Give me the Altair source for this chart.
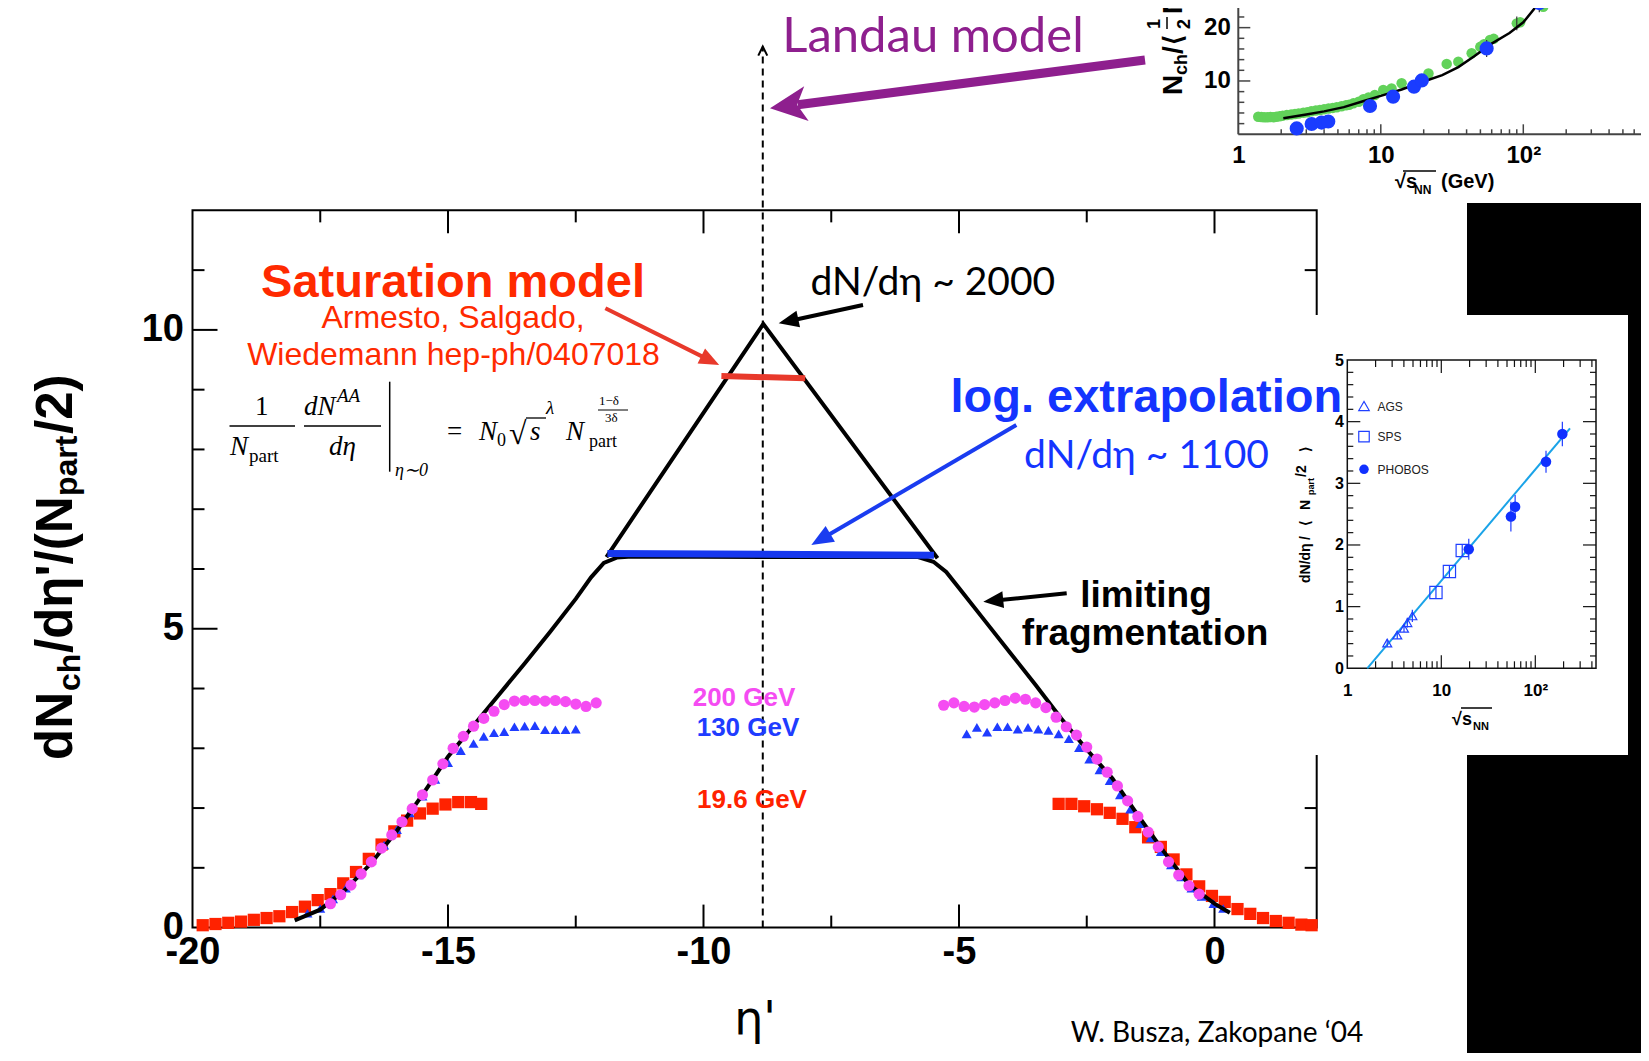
import math
import altair as alt
import pandas as pd

# ================= DATA =================
# main panel: dN_ch/deta' /(N_part/2) vs eta'
red_l_x = [-19.8, -19.55, -19.3, -19.05, -18.8, -18.55, -18.3, -18.05, -17.8, -17.55, -17.3, -17.05,
           -16.8, -16.55, -16.3, -16.05, -15.8, -15.55, -15.3, -15.05, -14.8, -14.55, -14.35]
red_l_y = [0.04, 0.06, 0.08, 0.10, 0.13, 0.16, 0.19, 0.26, 0.35, 0.46, 0.56, 0.74,
           0.93, 1.15, 1.39, 1.61, 1.79, 1.91, 1.99, 2.06, 2.10, 2.10, 2.07]
red_r_x = [-3.05, -2.8, -2.55, -2.3, -2.05, -1.8, -1.55, -1.3, -1.05, -0.8, -0.55, -0.3, -0.05,
           0.2, 0.45, 0.7, 0.95, 1.2, 1.45, 1.7, 1.9]
red_r_y = [2.07, 2.07, 2.03, 1.98, 1.92, 1.82, 1.68, 1.51, 1.35, 1.14, 0.89, 0.69, 0.53,
           0.43, 0.31, 0.23, 0.16, 0.11, 0.08, 0.05, 0.04]

blue_l_x = [-17.75, -17.5, -17.25, -17.0, -16.75, -16.5, -16.25, -16.0, -15.75, -15.5, -15.25, -15.0,
            -14.75, -14.5, -14.3, -14.1, -13.9, -13.7, -13.5, -13.3, -13.1, -12.9, -12.7, -12.5]
blue_l_y = [0.24, 0.32, 0.48, 0.66, 0.88, 1.12, 1.38, 1.64, 1.92, 2.20, 2.48, 2.76,
            2.96, 3.08, 3.20, 3.26, 3.28, 3.36, 3.37, 3.38, 3.31, 3.31, 3.31, 3.32]
blue_r_x = [-4.85, -4.65, -4.45, -4.25, -4.05, -3.85, -3.65, -3.45, -3.25, -3.05, -2.85, -2.65, -2.45,
            -2.25, -2.05, -1.85, -1.65, -1.45, -1.25, -1.05, -0.85, -0.65, -0.45, -0.25, -0.02, 0.17]
blue_r_y = [3.24, 3.35, 3.27, 3.36, 3.36, 3.32, 3.35, 3.32, 3.30, 3.24, 3.16, 3.01, 2.82,
            2.64, 2.46, 2.22, 1.98, 1.74, 1.50, 1.27, 1.05, 0.85, 0.66, 0.52, 0.40, 0.32]

pink_l_x = [-17.3, -17.1, -16.9, -16.7, -16.5, -16.3, -16.1, -15.9, -15.7, -15.5, -15.3, -15.1, -14.9,
            -14.7, -14.5, -14.3, -14.1, -13.9, -13.7, -13.5, -13.3, -13.1, -12.9, -12.7, -12.5, -12.3, -12.1]
pink_l_y = [0.40, 0.55, 0.71, 0.90, 1.10, 1.33, 1.55, 1.77, 1.99, 2.22, 2.47, 2.74, 3.00,
            3.20, 3.37, 3.50, 3.62, 3.73, 3.79, 3.80, 3.80, 3.79, 3.80, 3.78, 3.74, 3.70, 3.76]
pink_r_x = [-5.3, -5.1, -4.9, -4.7, -4.5, -4.3, -4.1, -3.9, -3.7, -3.5, -3.3, -3.1, -2.9,
            -2.7, -2.5, -2.3, -2.1, -1.9, -1.7, -1.5, -1.3, -1.1, -0.9, -0.7, -0.5, -0.3]
pink_r_y = [3.72, 3.76, 3.70, 3.69, 3.73, 3.76, 3.80, 3.84, 3.82, 3.76, 3.68, 3.52, 3.36,
            3.22, 3.02, 2.82, 2.60, 2.37, 2.12, 1.86, 1.60, 1.35, 1.10, 0.88, 0.70, 0.56]

# limiting-fragmentation curve + plateau (black)
lf_x = [-18.0, -17.5, -17.0, -16.5, -16.0, -15.5, -15.0, -14.5, -14.0, -13.5, -13.0, -12.5, -12.2, -11.95,
        -11.7, -11.4, -8.0, -5.8, -5.5, -5.25, -5.0, -4.5, -4.0, -3.5, -3.0, -2.5, -2.0, -1.5, -1.0, -0.5, 0.0, 0.3]
lf_y = [0.12, 0.30, 0.64, 1.08, 1.62, 2.22, 2.86, 3.38, 3.90, 4.42, 4.95, 5.50, 5.86, 6.10,
        6.19, 6.21, 6.20, 6.20, 6.12, 5.95, 5.68, 5.14, 4.60, 4.06, 3.50, 2.98, 2.50, 1.88, 1.28, 0.72, 0.40, 0.25]
tri_x = [-11.9, -8.83, -5.42]
tri_y = [6.2, 10.1, 6.18]
sat_x = [-9.65, -8.01]
sat_y = [9.23, 9.19]
logx_x = [-11.88, -5.49]
logx_y = [6.26, 6.23]
landau_x = -8.84
landau_top = 14.74

main_x_labels = [-20, -15, -10, -5, 0]
main_y_labels = [0, 5, 10]
main_x_ticks = [-17.5, -15, -12.5, -10, -7.5, -5, -2.5, 0]
main_x_major = [-15, -10, -5, 0]
main_y_ticks = [1, 2, 3, 4, 5, 6, 7, 8, 9, 10, 11]
main_y_major = [5, 10]

# inset A: dN/deta/<Npart/2> vs sqrt(sNN)
ags_s = [2.66, 3.40, 4.01, 4.35, 4.92]
ags_v = [0.41, 0.54, 0.65, 0.74, 0.85]
ags_e = [0.06, 0.06, 0.06, 0.08, 0.10]
sps_s = [8.77, 12.2, 16.7]
sps_v = [1.23, 1.57, 1.91]
sps_e = [0.10, 0.10, 0.10]
phobos_s = [19.6, 55.0, 61.0, 130.0, 194.0]
phobos_v = [1.93, 2.46, 2.62, 3.35, 3.80]
phobos_e = [0.17, 0.24, 0.19, 0.18, 0.20]
fit_s = [1.63, 234.0]
fit_v = [0.0, 3.89]
a_x_labels = [1, 10, 100]
a_y_labels = [0, 1, 2, 3, 4, 5]
a_log_ticks = [2, 3, 4, 5, 6, 7, 8, 9, 10, 20, 30, 40, 50, 60, 70, 80, 90, 100, 200, 300, 400]
a_log_major = [10, 100]
a_y_ticks = [round(0.2 * k, 1) for k in range(1, 25)]

# inset B: N_ch/<Npart/2> vs sqrt(sNN)
green_s = [1.38, 1.45, 1.52, 1.6, 1.68, 1.76, 1.85, 1.95, 2.05, 2.19, 2.35, 2.5, 2.65, 2.86, 3.05,
           3.25, 3.5, 3.74, 4.0, 4.3, 4.6, 4.91, 5.3, 5.7, 6.0, 6.42, 7.0, 7.54, 8.2, 9.08,
           10.4, 11.9, 14.0, 21.6, 29.0, 35.0, 43.4, 49.9, 53.0, 58.4, 62.0, 90.0, 95.0, 138.0, 163.0]
green_v = [3.3, 3.25, 3.2, 3.2, 3.25, 3.2, 3.3, 3.4, 3.5, 3.6, 3.7, 3.8, 3.9, 4.05, 4.15,
           4.3, 4.45, 4.56, 4.7, 4.85, 4.95, 5.06, 5.25, 5.45, 5.55, 5.8, 6.1, 6.56, 6.9, 7.37,
           8.3, 8.6, 9.56, 11.4, 13.2, 13.6, 15.2, 16.4, 16.9, 17.7, 17.9, 20.8, 21.0, 23.9, 24.9]
blueB_s = [2.57, 3.27, 3.84, 4.28, 8.4, 12.2, 17.1, 19.4, 55.3, 129.5]
blueB_v = [1.1, 1.93, 2.2, 2.4, 5.3, 7.06, 8.93, 10.1, 16.1, 24.6]
errB_s = [55.3, 90.0, 129.5]
errB_v = [16.1, 20.8, 24.6]
errB_e = [1.6, 1.3, 1.7]
curveB_s = [2.07, 3.0, 4.0, 5.5, 7.5, 10, 14, 20, 27, 35, 45, 60, 80, 100, 134, 160]
curveB_v = [3.0, 3.7, 4.3, 5.1, 6.2, 7.2, 8.4, 9.9, 11.1, 12.6, 14.6, 17.0, 19.0, 21.0, 25.2, 27.5]
b_x_labels = [1, 10, 100]
b_y_labels = [10, 20]
b_log_ticks = [2, 3, 4, 5, 6, 7, 8, 9, 10, 20, 30, 40, 50, 60, 70, 80, 90, 100, 200, 300, 400, 500, 600, 700]
b_log_major = [10, 100]
b_y_ticks = [2, 4, 6, 8, 10, 12, 14, 16, 18, 20, 22, 24, 26, 28]
b_y_major = [10, 20]

# ================= GEOMETRY =================
PAGE_W, PAGE_H, MARGIN = 1649, 1061, 8
KX, KY = 51.1, 59.77
W_MAIN, H_MAIN = 22 * KX, 12 * KY
VX0 = 192.5
VY0 = 927.6 - H_MAIN
PAD = {"left": VX0 - MARGIN, "top": VY0 - MARGIN,
       "right": PAGE_W - 2 * MARGIN - (VX0 - MARGIN) - W_MAIN,
       "bottom": PAGE_H - 2 * MARGIN - (VY0 - MARGIN) - H_MAIN}

A_X0, A_X1, A_Y0, A_Y1, A_DEC = 1347.3, 1596.0, 668.3, 360.0, 94.0
A_XMAX = 10 ** ((A_X1 - A_X0) / A_DEC)
A_KY = (A_Y0 - A_Y1) / 5.0
B_X0, B_DEC, B_Y0, B_KY = 1238.3, 142.5, 134.3, 5.333
B_XMAX = 10 ** ((PAGE_W - B_X0) / B_DEC)


def sx_m():
    return alt.Scale(domain=[-20, 2], range=[0, W_MAIN], nice=False, zero=False)


def sy_m():
    return alt.Scale(domain=[0, 12], range=[H_MAIN, 0], nice=False, zero=False)


def sx_a():
    return alt.Scale(type="log", domain=[1, A_XMAX], range=[A_X0 - VX0, A_X1 - VX0], nice=False)


def sy_a():
    return alt.Scale(domain=[0, 5], range=[A_Y0 - VY0, A_Y1 - VY0], nice=False, zero=False)


def sx_b():
    return alt.Scale(type="log", domain=[1, B_XMAX], range=[B_X0 - VX0, PAGE_W - VX0], nice=False)


def sy_b():
    return alt.Scale(domain=[0, 30], range=[B_Y0 - VY0, B_Y0 - 30 * B_KY - VY0], nice=False, zero=False)


def pm(px, py):
    return (-20 + (px - VX0) / KX, (927.6 - py) / KY)


def pa(px, py):
    return (10 ** ((px - A_X0) / A_DEC), (A_Y0 - py) / A_KY)


def pb(px, py):
    return (10 ** ((px - B_X0) / B_DEC), (B_Y0 - py) / B_KY)


SYS = {"m": (sx_m, sy_m, pm), "a": (sx_a, sy_a, pa), "b": (sx_b, sy_b, pb)}


def exy(sys, x2=False, y2=False, xaxis=None, yaxis=None):
    sx, sy, _ = SYS[sys]
    e = dict(x=alt.X("x:Q", scale=sx(), axis=xaxis), y=alt.Y("y:Q", scale=sy(), axis=yaxis))
    if x2:
        e["x2"] = alt.X2("x2:Q")
    if y2:
        e["y2"] = alt.Y2("y2:Q")
    return e


def texts(sys, rows, font, weight="normal", style="normal", align="center", angle=0):
    conv = SYS[sys][2]
    recs = []
    for px, py, t, c, s in rows:
        x, y = conv(px, py)
        recs.append({"x": x, "y": y, "t": t, "c": c, "s": s})
    mk = dict(font=font, fontWeight=weight, fontStyle=style, align=align, baseline="alphabetic")
    if angle:
        mk["angle"] = angle
    return alt.Chart(pd.DataFrame(recs)).mark_text(**mk).encode(
        **exy(sys), text="t:N", color=alt.Color("c:N", scale=None), size=alt.Size("s:Q", scale=None))


def segs_px(sys, rows, dash=None):
    conv = SYS[sys][2]
    recs = []
    for x1, y1, x2, y2, c, w in rows:
        a = conv(x1, y1)
        b = conv(x2, y2)
        recs.append(dict(x=a[0], y=a[1], x2=b[0], y2=b[1], c=c, w=w))
    mk = {}
    if dash:
        mk["strokeDash"] = dash
    return alt.Chart(pd.DataFrame(recs)).mark_rule(**mk).encode(
        **exy(sys, True, True), color=alt.Color("c:N", scale=None),
        strokeWidth=alt.StrokeWidth("w:Q", scale=None))


def segs_data(sys, recs, color, width, xaxis=None, yaxis=None, dash=None):
    mk = dict(color=color, strokeWidth=width)
    if dash:
        mk["strokeDash"] = dash
    return alt.Chart(pd.DataFrame(recs)).mark_rule(**mk).encode(**exy(sys, True, True, xaxis, yaxis))


layers = []

# ---------- main frame with axes ----------
font_b = "Liberation Sans"
x_axis_main = alt.Axis(orient="bottom", values=main_x_labels, labelExpr="replace(datum.label, '\u2212', '-')",
                       labelFont=font_b, labelFontWeight="bold", labelFontSize=38, labelColor="black",
                       labelPadding=6, labelFlush=False, labelOverlap=False, ticks=False, domain=False,
                       grid=False, title="\u03b7'", titleFont="DejaVu Sans", titleFontSize=46,
                       titleFontWeight="normal", titleColor="black", titlePadding=26)
y_axis_main = alt.Axis(orient="left", values=main_y_labels, labelFont=font_b, labelFontWeight="bold",
                       labelFontSize=38, labelColor="black", labelPadding=9, labelOverlap=False,
                       ticks=False, domain=False, grid=False, title=None)
frame = pd.DataFrame([dict(x=-20, x2=2, y=0, y2=12)])
layers.append(alt.Chart(frame).mark_rect(fillOpacity=0, stroke="black", strokeWidth=2).encode(
    **exy("m", True, True, x_axis_main, y_axis_main)))

# main ticks (inward)
tick_recs = []
for v in main_x_ticks:
    L = (23 if v in main_x_major else 12) / KY
    tick_recs.append(dict(x=v, x2=v, y=0, y2=L))
    tick_recs.append(dict(x=v, x2=v, y=12, y2=12 - L))
for v in main_y_ticks:
    L = (25 if v in main_y_major else 12) / KX
    tick_recs.append(dict(x=-20, x2=-20 + L, y=v, y2=v))
    tick_recs.append(dict(x=2, x2=2 - L, y=v, y2=v))
layers.append(segs_data("m", tick_recs, "black", 2))

# Landau dashed line + chevron
layers.append(segs_data("m", [dict(x=landau_x, x2=landau_x, y=0, y2=landau_top)], "black", 2, dash=[7, 5]))
layers.append(alt.Chart(pd.DataFrame([dict(x=landau_x, y=landau_top)])).mark_point(
    shape="M-0.45,0.9L0,0L0.45,0.9", filled=False, color="black", strokeWidth=2, size=400, opacity=1).encode(**exy("m")))


def series_df(xs, ys):
    return pd.DataFrame({"x": xs, "y": ys})


RED, BLUE, PINK = "#ff2200", "#1f3cff", "#f54cf2"
red_df = pd.concat([series_df(red_l_x, red_l_y), series_df(red_r_x, red_r_y)])
blue_df = pd.concat([series_df(blue_l_x, blue_l_y), series_df(blue_r_x, blue_r_y)])
pink_df = pd.concat([series_df(pink_l_x, pink_l_y), series_df(pink_r_x, pink_r_y)])

layers.append(alt.Chart(red_df).mark_square(size=150, color=RED, opacity=1).encode(**exy("m")))
layers.append(alt.Chart(blue_df).mark_point(shape="triangle-up", filled=True, size=100, color=BLUE, opacity=1).encode(**exy("m")))
layers.append(alt.Chart(series_df(lf_x, lf_y)).mark_line(color="black", strokeWidth=4).encode(**exy("m")))
layers.append(alt.Chart(pink_df).mark_circle(size=125, color=PINK, opacity=1).encode(**exy("m")))
layers.append(alt.Chart(series_df(tri_x, tri_y)).mark_line(color="black", strokeWidth=4).encode(**exy("m")))
layers.append(alt.Chart(series_df(sat_x, sat_y)).mark_line(color="#e8392b", strokeWidth=6).encode(**exy("m")))
layers.append(alt.Chart(series_df(logx_x, logx_y)).mark_line(color="#1637ee", strokeWidth=7).encode(**exy("m")))

# ---------- arrows ----------
TRI = "M0,0L0.42,1L-0.42,1Z"
STEALTH = "M0,0L0.5,1.05L0,0.78L-0.5,1.05Z"
arrow_defs = [
    # start px, tip px, color, width, head length
    (863, 305, 778.7, 323.3, "black", 4, 20),
    (605.4, 308.3, 719.2, 365, "#e8392b", 4, 20),
    (1016.3, 425, 811.3, 545, "#1a3cf0", 4, 22),
    (1066.7, 593.3, 983.3, 601.7, "black", 4, 20),
]
shafts, heads = [], []
for x1, y1, x2, y2, c, w, hl in arrow_defs:
    dx, dy = x2 - x1, y2 - y1
    r = math.hypot(dx, dy)
    ux, uy = dx / r, dy / r
    shafts.append((x1, y1, x2 - ux * hl * 0.6, y2 - uy * hl * 0.6, c, w))
    tx, ty = pm(x2, y2)
    heads.append(dict(x=tx, y=ty, a=math.degrees(math.atan2(dx, -dy)) % 360, s=(2 * hl) ** 2, c=c))
layers.append(segs_px("m", shafts))
layers.append(alt.Chart(pd.DataFrame(heads)).mark_point(shape=TRI, filled=True, strokeWidth=0, opacity=1).encode(
    **exy("m"), angle=alt.Angle("a:Q", scale=None), size=alt.Size("s:Q", scale=None), color=alt.Color("c:N", scale=None)))
# purple Landau arrow
px1, py1, px2, py2 = 1145, 60, 770, 108.3
dx, dy = px2 - px1, py2 - py1
r = math.hypot(dx, dy)
layers.append(segs_px("m", [(px1, py1, px2 - dx / r * 28, py2 - dy / r * 28, "#8e1f8e", 9)]))
tx, ty = pm(px2, py2)
layers.append(alt.Chart(pd.DataFrame([dict(x=tx, y=ty, a=math.degrees(math.atan2(dx, -dy)) % 360)])).mark_point(
    shape=STEALTH, filled=True, strokeWidth=0, opacity=1, color="#8e1f8e", size=70 ** 2).encode(
    **exy("m"), angle=alt.Angle("a:Q", scale=None)))

# ---------- main texts ----------
layers.append(texts("m", [
    (453, 296.7, "Saturation model", "#ff2a00", 47),
    (744, 706, "200 GeV", PINK, 26),
    (748, 736, "130 GeV", BLUE, 26),
    (752, 807.5, "19.6 GeV", RED, 26),
    (1146, 606.7, "limiting", "black", 37),
    (1145, 645, "fragmentation", "black", 37),
], font_b, weight="bold"))
layers.append(texts("m", [
    (453, 328.3, "Armesto, Salgado,", "#ff2a00", 32),
    (453.5, 365, "Wiedemann hep-ph/0407018", "#ff2a00", 32),
], font_b))
layers.append(texts("m", [
    (932.8, 295, "dN/d\u03b7 ~ 2000", "black", 39),
    (933, 51.7, "Landau model", "#8e1f8e", 49),
    (1217, 1041.7, "W. Busza, Zakopane \u201804", "black", 28),
    (1146.5, 468, "dN/d\u03b7 ~ 1100", "#1434ff", 39),
], "Lato"))
# y-axis title (rotated pieces)
layers.append(texts("m", [
    (71.7, 760, "dN", "black", 51),
    (80, 691, "ch", "black", 32),
    (71.7, 653, "/d\u03b7'/(N", "black", 51),
    (77, 496, "part", "black", 32),
    (71.7, 434, "/2)", "black", 51),
], font_b, weight="bold", align="left", angle=270))
# formula
SERIF = "Liberation Serif"
layers.append(texts("m", [
    (255, 415, "1", "black", 27),
    (447, 440, "=", "black", 27),
    (497, 446, "0", "black", 18),
    (509, 444, "\u221a", "black", 32),
    (249, 462, "part", "black", 19),
    (589, 447, "part", "black", 18),
    (599, 405, "1\u2212\u03b4", "black", 13),
    (605, 422, "3\u03b4", "black", 13),
], SERIF, align="left"))
layers.append(texts("m", [
    (230, 455, "N", "black", 27),
    (304, 415, "dN", "black", 27),
    (337, 402, "AA", "black", 19),
    (329, 455, "d\u03b7", "black", 27),
    (395, 476, "\u03b7\u223c0", "black", 18),
    (479, 440, "N", "black", 27),
    (530, 440, "s", "black", 27),
    (546, 414, "\u03bb", "black", 19),
    (566, 440, "N", "black", 27),
], SERIF, style="italic", align="left"))
layers.append(segs_px("m", [
    (229.5, 426, 295, 426, "black", 1.5),
    (304, 426, 381, 426, "black", 1.5),
    (389.7, 381.7, 389.7, 471.7, "black", 1.5),
    (526, 418, 546, 418, "black", 1.3),
    (598, 410, 628, 410, "black", 1),
]))

# ---------- black backdrop + white inset panel ----------
bx1, by1 = pm(1467, 203)
bx2, by2 = pm(1660, 1075)
layers.append(alt.Chart(pd.DataFrame([dict(x=bx1, x2=bx2, y=by2, y2=by1)])).mark_rect(color="black").encode(**exy("m", True, True)))
wx1, wy1 = pm(1290, 315)
wx2, wy2 = pm(1628, 755)
layers.append(alt.Chart(pd.DataFrame([dict(x=wx1, x2=wx2, y=wy2, y2=wy1)])).mark_rect(color="white").encode(**exy("m", True, True)))

# ---------- inset A ----------
a_xaxis = alt.Axis(orient="bottom", offset=-(H_MAIN - (A_Y0 - VY0)), values=a_x_labels,
                   labelExpr="datum.value >= 100 ? '10\u00b2' : (datum.value >= 10 ? '10' : '1')",
                   labelFont=font_b, labelFontWeight="bold", labelFontSize=17, labelColor="black",
                   labelPadding=14, labelFlush=False, labelOverlap=False, ticks=False, domain=False,
                   grid=False, title=None, zindex=2)
a_yaxis = alt.Axis(orient="left", offset=-(A_X0 - VX0), values=a_y_labels, labelFont=font_b,
                   labelFontWeight="bold", labelFontSize=16, labelColor="black", labelPadding=4,
                   labelOverlap=False, ticks=False, domain=False, grid=False, title=None, zindex=2)
layers.append(alt.Chart(pd.DataFrame([dict(x=1, x2=A_XMAX, y=0, y2=5)])).mark_rect(
    fillOpacity=0, stroke="#111111", strokeWidth=1.5).encode(**exy("a", True, True, a_xaxis, a_yaxis)))
a_ticks = []
for v in a_log_ticks:
    L = (13 if v in a_log_major else 7) / A_KY
    a_ticks.append(dict(x=v, x2=v, y=0, y2=L))
    a_ticks.append(dict(x=v, x2=v, y=5, y2=5 - L))
for v in a_y_ticks:
    f = 10 ** (((13 if abs(v - round(v)) < 1e-6 else 6)) / A_DEC)
    a_ticks.append(dict(x=1, x2=f, y=v, y2=v))
    a_ticks.append(dict(x=A_XMAX, x2=A_XMAX / f, y=v, y2=v))
layers.append(segs_data("a", a_ticks, "#111111", 1.2))
layers.append(alt.Chart(series_df(fit_s, fit_v)).mark_line(color="#1aa3e8", strokeWidth=2).encode(**exy("a")))
err_a = [dict(x=s, x2=s, y=v - e, y2=v + e) for s, v, e in zip(ags_s + sps_s + phobos_s, ags_v + sps_v + phobos_v, ags_e + sps_e + phobos_e)]
layers.append(segs_data("a", err_a, "#1f3cff", 1.2))
A_BLUE = "#2040ff"
layers.append(alt.Chart(series_df(ags_s, ags_v)).mark_point(shape="triangle-up", filled=False, size=80, color=A_BLUE, strokeWidth=1.2, opacity=1).encode(**exy("a")))
layers.append(alt.Chart(series_df(sps_s, sps_v)).mark_point(shape="square", filled=False, size=150, color=A_BLUE, strokeWidth=1.2, opacity=1).encode(**exy("a")))
layers.append(alt.Chart(series_df(phobos_s, phobos_v)).mark_circle(size=110, color="#1030ff", opacity=1).encode(**exy("a")))
# legend of inset A
lx, ly1 = pa(1364, 406)
_, ly2 = pa(1364, 436.7)
_, ly3 = pa(1364, 469.3)
layers.append(alt.Chart(pd.DataFrame([dict(x=lx, y=ly1)])).mark_point(shape="triangle-up", filled=False, size=110, color=A_BLUE, strokeWidth=1.2, opacity=1).encode(**exy("a")))
layers.append(alt.Chart(pd.DataFrame([dict(x=lx, y=ly2)])).mark_point(shape="square", filled=False, size=110, color=A_BLUE, strokeWidth=1.2, opacity=1).encode(**exy("a")))
layers.append(alt.Chart(pd.DataFrame([dict(x=lx, y=ly3)])).mark_circle(size=90, color="#1030ff", opacity=1).encode(**exy("a")))
layers.append(texts("a", [
    (1377.5, 410.5, "AGS", "#222222", 12),
    (1377.5, 441, "SPS", "#222222", 12),
    (1377.5, 473.5, "PHOBOS", "#222222", 12),
], font_b, align="left"))
layers.append(texts("a", [
    (1310, 583, "dN/d\u03b7", "black", 14),
    (1310, 540, "/", "black", 14),
    (1310, 526, "\u27e8", "black", 14),
    (1310, 510, "N", "black", 14),
    (1314, 495, "part", "black", 9),
    (1306, 477, "/2", "black", 14),
    (1310, 452, "\u27e9", "black", 14),
], font_b, weight="bold", align="left", angle=270))
layers.append(texts("a", [
    (1452, 725, "\u221as", "black", 18),
    (1473, 730, "NN", "black", 11),
], font_b, weight="bold", align="left"))
layers.append(segs_px("a", [(1461, 708, 1492, 708, "black", 1.5)]))

# ---------- texts drawn over the inset panel ----------
layers.append(texts("m", [
    (1146.3, 411.7, "log. extrapolation", "#1434ff", 47),
], font_b, weight="bold"))

# ---------- inset B (top right, cut by the page edge) ----------
b_xaxis = alt.Axis(orient="bottom", offset=-(H_MAIN - (133.5 - VY0)), values=b_x_labels,
                   labelExpr="datum.value >= 100 ? '10\u00b2' : (datum.value >= 10 ? '10' : '1')",
                   labelFont=font_b, labelFontWeight="bold", labelFontSize=24, labelColor="black",
                   labelPadding=10, labelFlush=False, labelOverlap=False, ticks=False, domain=False,
                   grid=False, title=None, zindex=2)
b_yaxis = alt.Axis(orient="left", offset=-(B_X0 - VX0), values=b_y_labels, labelFont=font_b,
                   labelFontWeight="bold", labelFontSize=24, labelColor="black", labelPadding=8,
                   labelOverlap=False, ticks=False, domain=False, grid=False, title=None, zindex=2)
layers.append(segs_data("b", [dict(x=1, x2=1, y=0, y2=30), dict(x=1, x2=B_XMAX, y=0, y2=0)], "#444444", 2,
                        xaxis=b_xaxis, yaxis=b_yaxis))
b_ticks = []
for v in b_log_ticks:
    L = (10 if v in b_log_major else 5) / B_KY
    b_ticks.append(dict(x=v, x2=v, y=0, y2=L))
for v in b_y_ticks:
    f = 10 ** ((12 if v in b_y_major else 6) / B_DEC)
    b_ticks.append(dict(x=1, x2=f, y=v, y2=v))
layers.append(segs_data("b", b_ticks, "#444444", 1.5))
layers.append(alt.Chart(series_df(green_s, green_v)).mark_circle(size=110, color="#62d25a", opacity=1).encode(**exy("b")))
layers.append(segs_data("b", [dict(x=s, x2=s, y=v - e, y2=v + e) for s, v, e in zip(errB_s, errB_v, errB_e)], "#333333", 1.2))
layers.append(alt.Chart(series_df(curveB_s, curveB_v)).mark_line(color="black", strokeWidth=2.5).encode(**exy("b")))
layers.append(alt.Chart(series_df(blueB_s, blueB_v)).mark_circle(size=200, color="#1a3cff", opacity=1).encode(**exy("b")))
layers.append(texts("b", [
    (1395, 188, "\u221as", "black", 20),
    (1414, 194, "NN", "black", 12),
    (1441, 188, "(GeV)", "black", 20),
], font_b, weight="bold", align="left"))
layers.append(segs_px("b", [(1403, 171, 1436, 171, "black", 1.5), (1167, 29, 1167, 17, "black", 1.5)]))
layers.append(texts("b", [
    (1181.7, 95, "N", "black", 28),
    (1187, 75, "ch", "black", 18),
    (1181.7, 54, "/", "black", 28),
    (1181.7, 45, "\u27e8", "black", 26),
    (1160, 29, "1", "black", 18),
    (1190, 29, "2", "black", 18),
    (1181.7, 14, "N", "black", 28),
], font_b, weight="bold", align="left", angle=270))

chart = alt.layer(*layers).resolve_scale(x="independent", y="independent").properties(
    width=W_MAIN, height=H_MAIN, autosize=alt.AutoSizeParams(type="none"), padding=PAD,
    background="white").configure_view(strokeWidth=0)

chart.save("out.html", embed_options={"renderer": "svg", "actions": False})
